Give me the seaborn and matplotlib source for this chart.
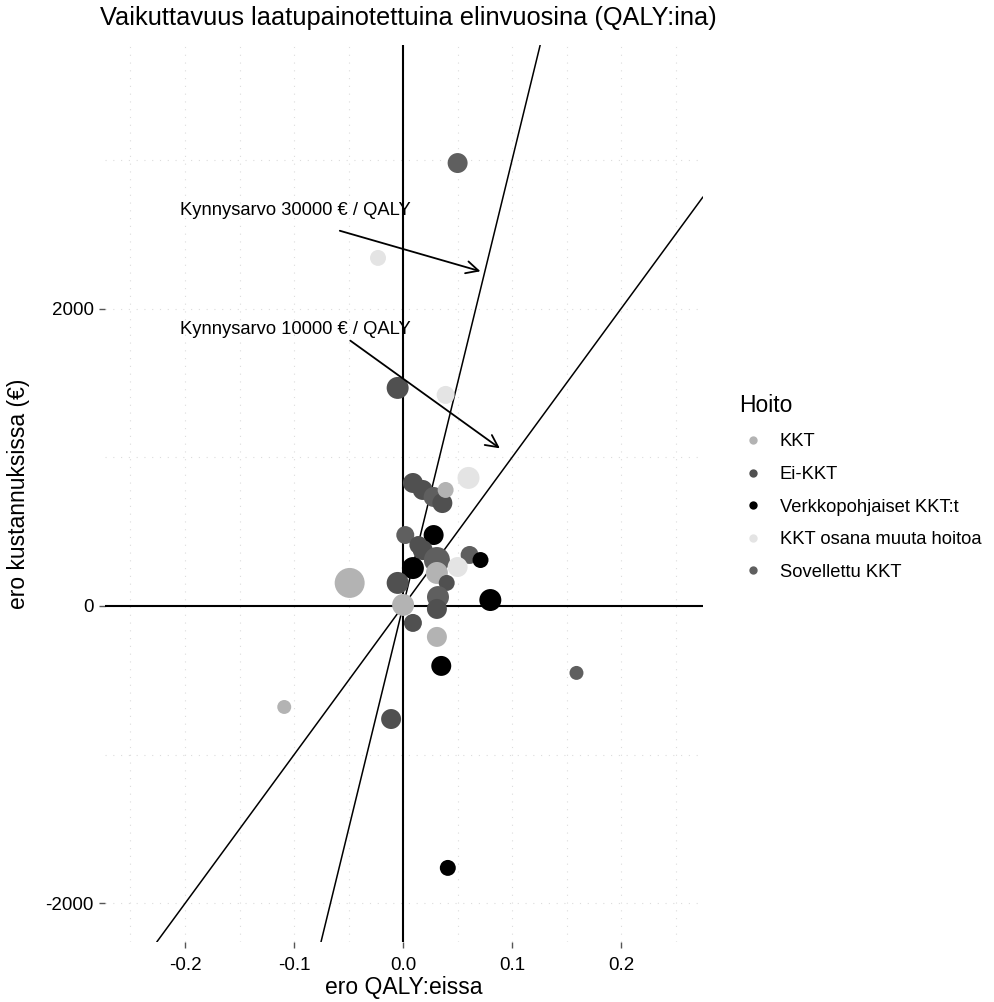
import numpy as np
import pandas as pd
import matplotlib
matplotlib.use("Agg")
import matplotlib.pyplot as plt
import seaborn as sns
from matplotlib.lines import Line2D

# Hoitojen erot (QALY, kustannus €) luettuna kuvasta
hoito = [
    "Sovellettu KKT", "KKT osana muuta hoitoa", "Ei-KKT", "KKT osana muuta hoitoa",
    "KKT osana muuta hoitoa", "Ei-KKT", "Ei-KKT", "Sovellettu KKT", "Ei-KKT", "KKT",
    "Sovellettu KKT", "Verkkopohjaiset KKT:t", "Ei-KKT", "Sovellettu KKT",
    "Verkkopohjaiset KKT:t", "KKT", "Ei-KKT", "Ei-KKT", "Sovellettu KKT", "Ei-KKT",
    "KKT", "Verkkopohjaiset KKT:t", "Ei-KKT", "KKT", "Verkkopohjaiset KKT:t",
    "Sovellettu KKT", "KKT", "Ei-KKT", "Verkkopohjaiset KKT:t", "Sovellettu KKT",
    "Verkkopohjaiset KKT:t", "KKT osana muuta hoitoa", "KKT", "Ei-KKT",
]
ero_qaly = [
    0.050, -0.023, -0.005, 0.039, 0.060, 0.009, 0.018, 0.028, 0.036, 0.039,
    0.002, 0.028, 0.018, 0.031, 0.009, 0.031, 0.040, -0.005, 0.032, 0.031,
    0.000, 0.080, 0.009, 0.031, 0.035, 0.159, -0.109, -0.011, 0.041, 0.061,
    0.071, 0.050, -0.049, 0.014,
]
ero_kust = [
    2978, 2340, 1466, 1419, 861, 827, 780, 733, 692, 780,
    477, 477, 376, 309, 255, 222, 155, 155, 60, -20,
    7, 40, -114, -208, -403, -450, -679, -760, -1761, 343,
    309, 262, 155, 410,
]
# pisteen koko (tutkimuksen paino, arvioitu)
paino = [
    10, 8, 11, 9, 11, 10, 10, 10, 10, 8,
    9, 10, 10, 13, 11, 11, 8, 11, 11, 10,
    11, 11, 9, 10, 10, 7, 7, 10, 8, 9,
    8, 10, 15, 9,
]

hoito_jarjestys = ["KKT", "Ei-KKT", "Verkkopohjaiset KKT:t",
                   "KKT osana muuta hoitoa", "Sovellettu KKT"]
varit = ["#b3b3b3", "#505050", "#000000", "#e4e4e4", "#5f5f5f"]

kynnysarvot = [30000, 10000]
x_tikit = [-0.2, -0.1, 0.0, 0.1, 0.2]
y_tikit = [-2000, 0, 2000]

df = pd.DataFrame({"hoito": hoito, "qaly": ero_qaly, "kust": ero_kust,
                   "paino": np.square(paino)})

sns.set_style("white")
plt.rcParams["font.family"] = ["Liberation Sans", "DejaVu Sans"]
plt.rcParams["axes.unicode_minus"] = False
plt.rcParams["text.color"] = "black"
plt.rcParams["axes.labelcolor"] = "black"
plt.rcParams["xtick.color"] = "#555555"
plt.rcParams["ytick.color"] = "#555555"
plt.rcParams["xtick.labelcolor"] = "black"
plt.rcParams["ytick.labelcolor"] = "black"

fig = plt.figure(figsize=(9.95, 10.02), dpi=100)
ax = fig.add_axes([0.1055, 0.0599, 0.601, 0.8951])

xlim = (-0.2734, 0.275)
ylim = (-2259, 3771)
ax.set_xlim(*xlim)
ax.set_ylim(*ylim)

# kevyt taustaruudukko
for gx in np.arange(-0.25, 0.26, 0.05):
    ax.axvline(gx, color="#dcdcdc", lw=0.8, ls=(0, (1, 6)), zorder=0)
for gy in np.arange(-2000, 3600, 1000):
    ax.axhline(gy, color="#dcdcdc", lw=0.8, ls=(0, (1, 6)), zorder=0)

ax.axhline(0, color="black", lw=1.5, zorder=1)
ax.axvline(0, color="black", lw=1.5, zorder=1)
for k in kynnysarvot:
    ax.axline((0, 0), slope=k, color="black", lw=1.1, zorder=1)

sns.scatterplot(data=df, x="qaly", y="kust", hue="hoito", hue_order=hoito_jarjestys,
                palette=varit, size="paino", sizes=(101, 466), linewidth=0,
                legend=False, ax=ax, zorder=3)

ax.annotate("", xy=(0.0734, 2245), xytext=(-0.0605, 2528),
            arrowprops=dict(arrowstyle="->", lw=1.3, color="black",
                            mutation_scale=22))
ax.annotate("", xy=(0.0908, 1049), xytext=(-0.0505, 1795),
            arrowprops=dict(arrowstyle="->", lw=1.3, color="black",
                            mutation_scale=22))
ax.text(-0.099, 2660, "Kynnysarvo 30000 € / QALY", ha="center", va="center",
        fontsize=13.2, zorder=4)
ax.text(-0.099, 1862, "Kynnysarvo 10000 € / QALY", ha="center", va="center",
        fontsize=13.2, zorder=4)

ax.set_xticks(x_tikit)
ax.set_xticklabels([f"{v:.1f}" for v in x_tikit])
ax.set_yticks(y_tikit)
ax.set_yticklabels([str(v) for v in y_tikit])
ax.tick_params(axis="both", length=4, width=1, labelsize=13.5, pad=4,
               direction="out")
ax.tick_params(axis="x", pad=7)
ax.tick_params(bottom=True, left=True)
for s in ax.spines.values():
    s.set_visible(False)

ax.set_xlabel("ero QALY:eissa", fontsize=16.5, labelpad=1)
ax.set_ylabel("ero kustannuksissa (€)", fontsize=16.5, labelpad=11)
fig.text(0.100, 0.982, "Vaikuttavuus laatupainotettuina elinvuosina (QALY:ina)",
         fontsize=18.3, ha="left", va="center")

# selite: otsikko erikseen, jotta merkit asettuvat kuten mallissa
fig.text(0.7427, 0.5958, "Hoito", fontsize=16.5, ha="left", va="center")
kahvat = [Line2D([], [], marker="o", ls="", markersize=6, color=c, markeredgewidth=0)
          for c in varit]
leg = fig.legend(kahvat, hoito_jarjestys, loc="upper left",
                 bbox_to_anchor=(0.7405, 0.5748), frameon=False, fontsize=13.2,
                 handlelength=1.0, handletextpad=0.95, labelspacing=0.85,
                 borderaxespad=0)

fig.savefig("out.png", dpi=100)
